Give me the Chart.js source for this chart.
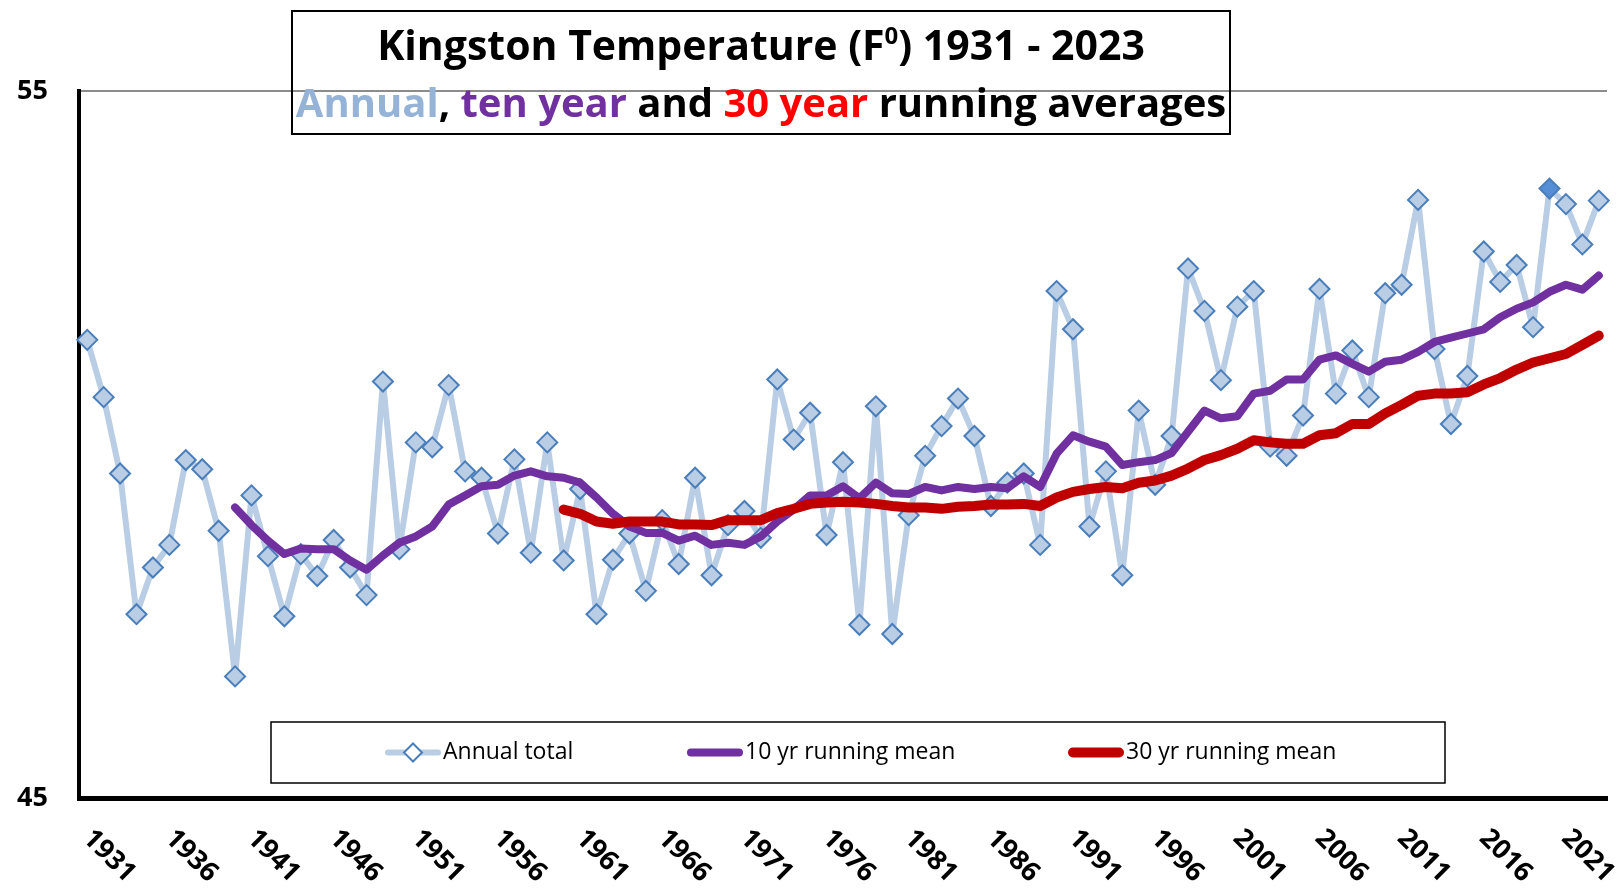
<!DOCTYPE html>
<html>
<head>
<meta charset="utf-8">
<title>Kingston Temperature 1931 - 2023</title>
<script src="https://cdn.jsdelivr.net/npm/chart.js@4.4.1/dist/chart.umd.min.js"></script>
<style>
  html, body { margin: 0; padding: 0; background: #ffffff; }
  #wrap { position: relative; width: 1624px; height: 893px; }
  #chart { position: absolute; left: 0; top: 0; }
  .title-box {
    position: absolute; left: 291px; top: 10px; width: 936px; height: 121px;
    border: 2px solid #000000;
    font-family: "Open Sans", sans-serif; font-weight: 700; font-size: 40px;
    text-align: center; color: #000000;
  }
  .title-box .line { position: absolute; left: 0; right: 0; height: 57px; line-height: 57px; white-space: nowrap; }
  .title-box .line1 { top: 4px; font-size: 41px; }
  .title-box .line2 { top: 61px; }
  .title-box sup { font-size: 24px; line-height: 0; vertical-align: 16px; }
  .c-annual { color: #95b3d7; }
  .c-ten { color: #7030a0; }
  .c-thirty { color: #ff0000; }
</style>
</head>
<body>
<div id="wrap">
  <canvas id="chart" width="1624" height="893"></canvas>
  <div class="title-box">
    <div class="line line1">Kingston Temperature (F<sup>0</sup>) 1931 - 2023</div>
    <div class="line line2"><span class="c-annual">Annual</span>, <span class="c-ten">ten year</span> and <span class="c-thirty">30 year</span> running averages</div>
  </div>
</div>
<script>
const years = [
  1931, 1932, 1933, 1934, 1935, 1936, 1937, 1938, 1939, 1940,
  1941, 1942, 1943, 1944, 1945, 1946, 1947, 1948, 1949, 1950,
  1951, 1952, 1953, 1954, 1955, 1956, 1957, 1958, 1959, 1960,
  1961, 1962, 1963, 1964, 1965, 1966, 1967, 1968, 1969, 1970,
  1971, 1972, 1973, 1974, 1975, 1976, 1977, 1978, 1979, 1980,
  1981, 1982, 1983, 1984, 1985, 1986, 1987, 1988, 1989, 1990,
  1991, 1992, 1993, 1994, 1995, 1996, 1997, 1998, 1999, 2000,
  2001, 2002, 2003, 2004, 2005, 2006, 2007, 2008, 2009, 2010,
  2011, 2012, 2013, 2014, 2015, 2016, 2017, 2018, 2019, 2020,
  2021, 2022, 2023
];

// annual mean temperature, deg F
const annualTemps = [
  51.48, 50.67, 49.59, 47.60, 48.26, 48.58, 49.78, 49.65, 48.78, 46.72,
  49.28, 48.42, 47.57, 48.45, 48.14, 48.65, 48.26, 47.87, 50.89, 48.52,
  50.03, 49.96, 50.84, 49.62, 49.53, 48.74, 49.79, 48.47, 50.03, 48.36,
  49.37, 47.60, 48.37, 48.74, 47.93, 48.93, 48.31, 49.53, 48.15, 48.86,
  49.06, 48.68, 50.92, 50.07, 50.45, 48.72, 49.75, 47.45, 50.54, 47.32,
  49.00, 49.84, 50.26, 50.65, 50.12, 49.13, 49.46, 49.59, 48.58, 52.17,
  51.63, 48.84, 49.62, 48.15, 50.48, 49.43, 50.12, 52.49, 51.89, 50.91,
  51.95, 52.17, 49.97, 49.84, 50.41, 52.20, 50.72, 51.33, 50.67, 52.14,
  52.26, 53.46, 51.35, 50.29, 50.97, 52.73, 52.30, 52.54, 51.66, 53.62,
  53.40, 52.83, 53.45
];

const tenYearMean = [
  null, null, null, null, null, null, null, null, null, 49.11,
  48.86, 48.64, 48.45, 48.53, 48.52, 48.52, 48.36, 48.23, 48.43, 48.61,
  48.70, 48.84, 49.15, 49.28, 49.41, 49.43, 49.56, 49.62, 49.55, 49.53,
  49.46, 49.25, 49.02, 48.84, 48.75, 48.75, 48.64, 48.71, 48.58, 48.61,
  48.58, 48.70, 48.91, 49.08, 49.28, 49.28, 49.41, 49.24, 49.46, 49.31,
  49.30, 49.40, 49.35, 49.40, 49.37, 49.40, 49.38, 49.55, 49.40, 49.87,
  50.13, 50.04, 49.97, 49.71, 49.75, 49.78, 49.88, 50.18, 50.48, 50.37,
  50.40, 50.72, 50.76, 50.92, 50.92, 51.20, 51.26, 51.14, 51.03, 51.17,
  51.20, 51.31, 51.45, 51.51, 51.57, 51.63, 51.80, 51.92, 52.01, 52.16,
  52.26, 52.19, 52.39
];

const thirtyYearMean = [
  null, null, null, null, null, null, null, null, null, null,
  null, null, null, null, null, null, null, null, null, null,
  null, null, null, null, null, null, null, null, null, 49.08,
  49.02, 48.91, 48.88, 48.91, 48.91, 48.91, 48.87, 48.87, 48.86, 48.93,
  48.93, 48.93, 49.03, 49.09, 49.16, 49.18, 49.19, 49.18, 49.16, 49.13,
  49.11, 49.11, 49.09, 49.12, 49.13, 49.15, 49.15, 49.16, 49.13, 49.25,
  49.33, 49.37, 49.40, 49.38, 49.46, 49.49, 49.56, 49.66, 49.78, 49.85,
  49.94, 50.06, 50.03, 50.01, 50.01, 50.13, 50.16, 50.29, 50.29, 50.44,
  50.56, 50.69, 50.72, 50.72, 50.74, 50.85, 50.94, 51.06, 51.16, 51.22,
  51.28, 51.41, 51.54
];

const xTickYears = [1931, 1936, 1941, 1946, 1951, 1956, 1961, 1966, 1971, 1976, 1981, 1986, 1991, 1996, 2001, 2006, 2011, 2016, 2021];
const yTicks = [45, 55];
const highlightYear = 2020;

const seriesLabels = ["Annual total", "10 yr running mean", "30 yr running mean"];

;(function (document, window) {
  "use strict";

  const FONT = '"Open Sans", sans-serif';
  const ANNUAL_LINE = "#b9cde5";
  const ANNUAL_MARKER_BORDER = "#4a7ebb";
  const HIGHLIGHT_FILL = "#558ed5";
  const TEN_COLOR = "#7030a0";
  const THIRTY_COLOR = "#c00000";

  // rotated year labels, text runs down and to the right from the tick
  const yearLabelsPlugin = {
    id: "yearLabels",
    afterDraw: (chart) => {
      const { ctx, chartArea } = chart;
      const xScale = chart.scales.x;
      ctx.save();
      ctx.font = "bold 27px " + FONT;
      ctx.fillStyle = "#000000";
      ctx.textAlign = "left";
      ctx.textBaseline = "middle";
      xTickYears.forEach((yr) => {
        const x = xScale.getPixelForValue(years.indexOf(yr));
        ctx.save();
        ctx.translate(x, chartArea.bottom + 36);
        ctx.rotate(Math.PI / 4);
        ctx.fillText(String(yr), 0, 0);
        ctx.restore();
      });
      ctx.restore();
    },
  };

  // boxed legend sitting inside the plot area
  const legendBoxPlugin = {
    id: "legendBox",
    afterDraw: (chart) => {
      const { ctx } = chart;
      const box = { left: 271, top: 722, right: 1445, bottom: 783 };
      const midY = (box.top + box.bottom) / 2;
      const starts = [385, 687, 1068];
      ctx.save();
      ctx.fillStyle = "#ffffff";
      ctx.fillRect(box.left, box.top, box.right - box.left, box.bottom - box.top);
      ctx.strokeStyle = "#000000";
      ctx.lineWidth = 1.5;
      ctx.strokeRect(box.left, box.top, box.right - box.left, box.bottom - box.top);
      chart.data.datasets.forEach((ds, i) => {
        const x0 = starts[i];
        const x1 = x0 + 56;
        ctx.beginPath();
        ctx.lineCap = "round";
        ctx.strokeStyle = ds.borderColor;
        ctx.lineWidth = ds.borderWidth;
        ctx.moveTo(x0 + ds.borderWidth / 2, midY);
        ctx.lineTo(x1 - ds.borderWidth / 2, midY);
        ctx.stroke();
        if (i === 0) {
          const cx = (x0 + x1) / 2;
          const r = 9;
          ctx.beginPath();
          ctx.moveTo(cx - r, midY);
          ctx.lineTo(cx, midY - r);
          ctx.lineTo(cx + r, midY);
          ctx.lineTo(cx, midY + r);
          ctx.closePath();
          ctx.fillStyle = "#ffffff";
          ctx.fill();
          ctx.strokeStyle = ANNUAL_MARKER_BORDER;
          ctx.lineWidth = 2;
          ctx.stroke();
        }
        ctx.fillStyle = "#000000";
        ctx.font = "23px " + FONT;
        ctx.textAlign = "left";
        ctx.textBaseline = "middle";
        ctx.fillText(ds.label, x1 + 2, midY);
      });
      ctx.restore();
    },
  };

  const ctx = document.getElementById("chart").getContext("2d");

  const chartInstance = new Chart(ctx, {
    type: "line",
    data: {
      labels: years,
      datasets: [
        {
          label: seriesLabels[0],
          data: annualTemps,
          borderColor: ANNUAL_LINE,
          borderWidth: 6,
          borderJoinStyle: "round",
          pointStyle: "rectRot",
          pointRadius: 10,
          pointBorderWidth: 2,
          pointBorderColor: ANNUAL_MARKER_BORDER,
          pointBackgroundColor: (c) => (years[c.dataIndex] === highlightYear ? HIGHLIGHT_FILL : ANNUAL_LINE),
          tension: 0,
          order: 3,
        },
        {
          label: seriesLabels[1],
          data: tenYearMean,
          borderColor: TEN_COLOR,
          borderWidth: 8,
          borderCapStyle: "round",
          borderJoinStyle: "round",
          pointRadius: 0,
          tension: 0,
          order: 2,
        },
        {
          label: seriesLabels[2],
          data: thirtyYearMean,
          borderColor: THIRTY_COLOR,
          borderWidth: 10,
          borderCapStyle: "round",
          borderJoinStyle: "round",
          pointRadius: 0,
          tension: 0,
          order: 1,
        },
      ],
    },
    options: {
      responsive: false,
      animation: false,
      events: [],
      layout: { padding: { left: 17, right: 17, top: 91, bottom: 95 } },
      plugins: {
        legend: { display: false },
        title: { display: false },
        tooltip: { enabled: false },
      },
      scales: {
        x: {
          offset: true,
          grid: { display: false, drawTicks: false },
          border: { display: true, color: "#000000", width: 5 },
          ticks: { display: false },
        },
        y: {
          min: yTicks[0],
          max: yTicks[yTicks.length - 1],
          afterBuildTicks: (scale) => {
            scale.ticks = yTicks.map((v) => ({ value: v }));
          },
          afterFit: (scale) => {
            scale.width = 62;
          },
          grid: {
            color: (c) => (c.tick && c.tick.value === yTicks[1] ? "#8c8c8c" : "rgba(0,0,0,0)"),
            lineWidth: 2,
            drawTicks: false,
          },
          border: { display: true, color: "#000000", width: 4 },
          ticks: {
            color: "#000000",
            padding: 31,
            font: { family: FONT, size: 27, weight: "bold" },
          },
        },
      },
    },
    plugins: [yearLabelsPlugin, legendBoxPlugin],
  });

  window.kingstonChart = chartInstance;
})(document, window);
</script>
</body>
</html>
